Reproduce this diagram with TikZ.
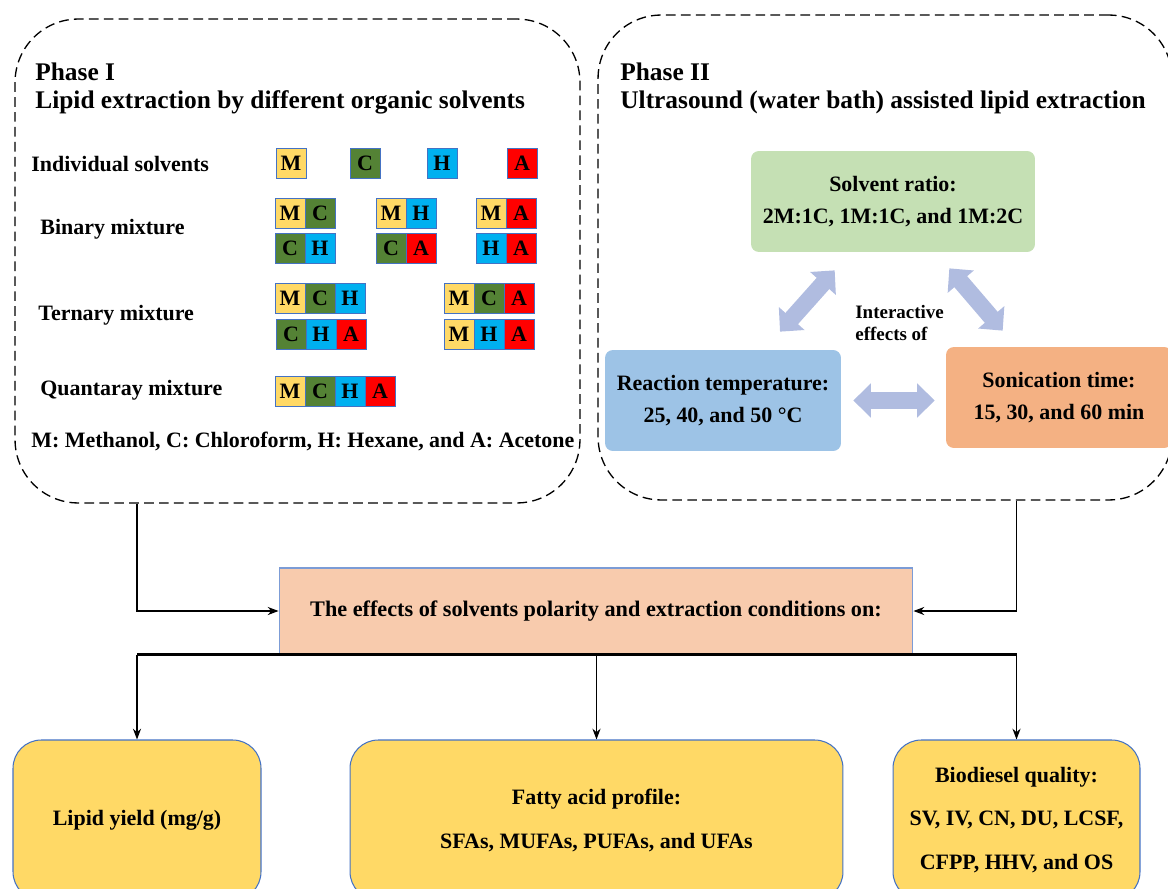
\documentclass[tikz,border=0pt]{standalone}
\usepackage{fontspec}
\setmainfont{Liberation Serif}
\usetikzlibrary{positioning,arrows.meta,calc}

\definecolor{colM}{HTML}{FFD966}
\definecolor{colC}{HTML}{548235}
\definecolor{colH}{HTML}{00B0F0}
\definecolor{colA}{HTML}{FF0000}
\definecolor{ratiofill}{HTML}{C5E0B4}
\definecolor{tempfill}{HTML}{9DC3E6}
\definecolor{timefill}{HTML}{F4B183}
\definecolor{effectfill}{HTML}{F8CBAD}
\definecolor{outfill}{HTML}{FFD966}
\definecolor{edgeblue}{HTML}{4472C4}
\definecolor{fatblue}{HTML}{B0BCE0}

\newcommand{\mixcells}[4]{% name, left x, centre y, solvents
  \foreach \s [count=\i from 0] in {#4}
    \node[cell, fill=col\s] (#1\s) at (#2+15+30*\i,#3) {\s};}

\begin{document}
\begin{tikzpicture}[
  x=0.02cm, y=-0.02cm,
  >=Stealth,
  txt/.style={font=\fontsize{12.5pt}{18pt}\selectfont\bfseries, inner sep=0pt},
  head/.style={font=\fontsize{14.45pt}{17pt}\selectfont\bfseries, anchor=west, inner sep=0pt},
  lab/.style={txt, anchor=west},
  phase/.style={draw, dash pattern=on 5.5pt off 3pt, line width=0.75pt, rounded corners=36pt},
  cell/.style={draw=edgeblue, line width=0.5pt, minimum size=0.6cm, inner sep=0pt, font=\fontsize{12.5pt}{15pt}\selectfont\bfseries},
  factor/.style={txt, rounded corners=4.5pt, minimum height=2.02cm, align=center},
  outcome/.style={draw=edgeblue, line width=0.6pt, fill=outfill, rounded corners=16pt, minimum height=3.2cm, align=center, inner sep=0pt, font=\fontsize{12.5pt}{25pt}\selectfont\bfseries},
  conn/.style={->, line width=0.7pt},
  fat/.style={draw=fatblue, line width=9.6pt, arrows={Triangle[width=19pt,length=10pt]-Triangle[width=19pt,length=10pt]}}
]
\useasboundingbox (0,0) rectangle (1168,888);
\clip (0,0) rectangle (1168,888);

\node[phase, minimum width=11.3cm, minimum height=9.68cm] (phaseI) at (297.5,261) {};
\node[phase, minimum width=11.48cm, minimum height=9.7cm] (phaseII) at (885,257.5) {};

\node[head] (titleI) at (35,72) {Phase I};
\node[head] (subI) at (35,102) {Lipid extraction by different organic solvents};
\node[head] (titleII) at (620,72) {Phase II};
\node[head] (subII) at (620,102) {Ultrasound (water bath) assisted lipid extraction};

\node[lab] (indiv) at (31,164) {Individual solvents};
\node[lab] (binary) at (40,229) {Binary mixture};
\node[lab] (ternary) at (38,315) {Ternary mixture};
\node[lab] (quat) at (40,390) {Quantaray mixture};
\node[lab] (legend) at (31,441) {M: Methanol, C: Chloroform, H: Hexane, and A: Acetone};

\foreach \s/\x in {M/291, C/365, H/442, A/522}
  \node[cell, fill=col\s] (ind\s) at (\x,163) {\s};

\mixcells{bMC}{275}{213}{M,C}
\mixcells{bMH}{376}{213}{M,H}
\mixcells{bMA}{476}{213}{M,A}
\mixcells{bCH}{275}{248}{C,H}
\mixcells{bCA}{376}{248}{C,A}
\mixcells{bHA}{476}{248}{H,A}
\mixcells{tMCH}{275}{298}{M,C,H}
\mixcells{tMCA}{444}{298}{M,C,A}
\mixcells{tCHA}{276}{334}{C,H,A}
\mixcells{tMHA}{444}{334}{M,H,A}
\mixcells{qMCHA}{275}{391}{M,C,H,A}

\node[factor, fill=ratiofill, minimum width=5.68cm] (ratio) at (893,201.5) {Solvent ratio:\\2M:1C, 1M:1C, and 1M:2C};
\node[factor, fill=tempfill, minimum width=4.72cm] (rtemp) at (723,400.5) {Reaction temperature:\\25, 40, and 50 °C};
\node[factor, fill=timefill, minimum width=4.52cm] (sonic) at (1059,397.5) {Sonication time:\\15, 30, and 60 min};
\node[font=\fontsize{10.8pt}{13pt}\selectfont\bfseries, align=left, anchor=west, inner sep=0pt] (inter) at (855,323) {Interactive\\effects of};

\draw[fat] ($(rtemp.north)+(57,-18)$) -- ($(ratio.south west)+(84,18)$);
\draw[fat] ($(ratio.south east)+(-86,16)$) -- ($(sonic.north west)+(57,-16)$);
\draw[fat] ($(rtemp.east)+(12,0)$) -- ($(sonic.west |- rtemp.east)+(-11,0)$);

\node[txt, font=\fontsize{12.65pt}{18pt}\selectfont\bfseries, draw=edgeblue!70, line width=0.6pt, fill=effectfill, minimum width=12.68cm, minimum height=1.72cm] (effects) at (596,611) {The effects of solvents polarity and extraction conditions on:};

\node[outcome, minimum width=4.96cm] (yield) at (137,820) {Lipid yield (mg/g)};
\node[outcome, minimum width=9.86cm] (fatty) at (596.5,820) {Fatty acid profile:\\SFAs, MUFAs, PUFAs, and UFAs};
\node[outcome, minimum width=4.94cm] (bio) at (1016.5,820) {Biodiesel quality:\\SV, IV, CN, DU, LCSF,\\CFPP, HHV, and OS};

\draw[conn] (yield.north |- phaseI.south) |- (effects.west);
\draw[conn] (bio.north |- phaseII.south) |- (effects.east);
\draw[line width=1.6pt] (yield.north |- effects.south) -- (bio.north |- effects.south);
\foreach \n in {yield, fatty, bio}
  \draw[conn] (\n.north |- effects.south) -- (\n.north);
\end{tikzpicture}
\end{document}
